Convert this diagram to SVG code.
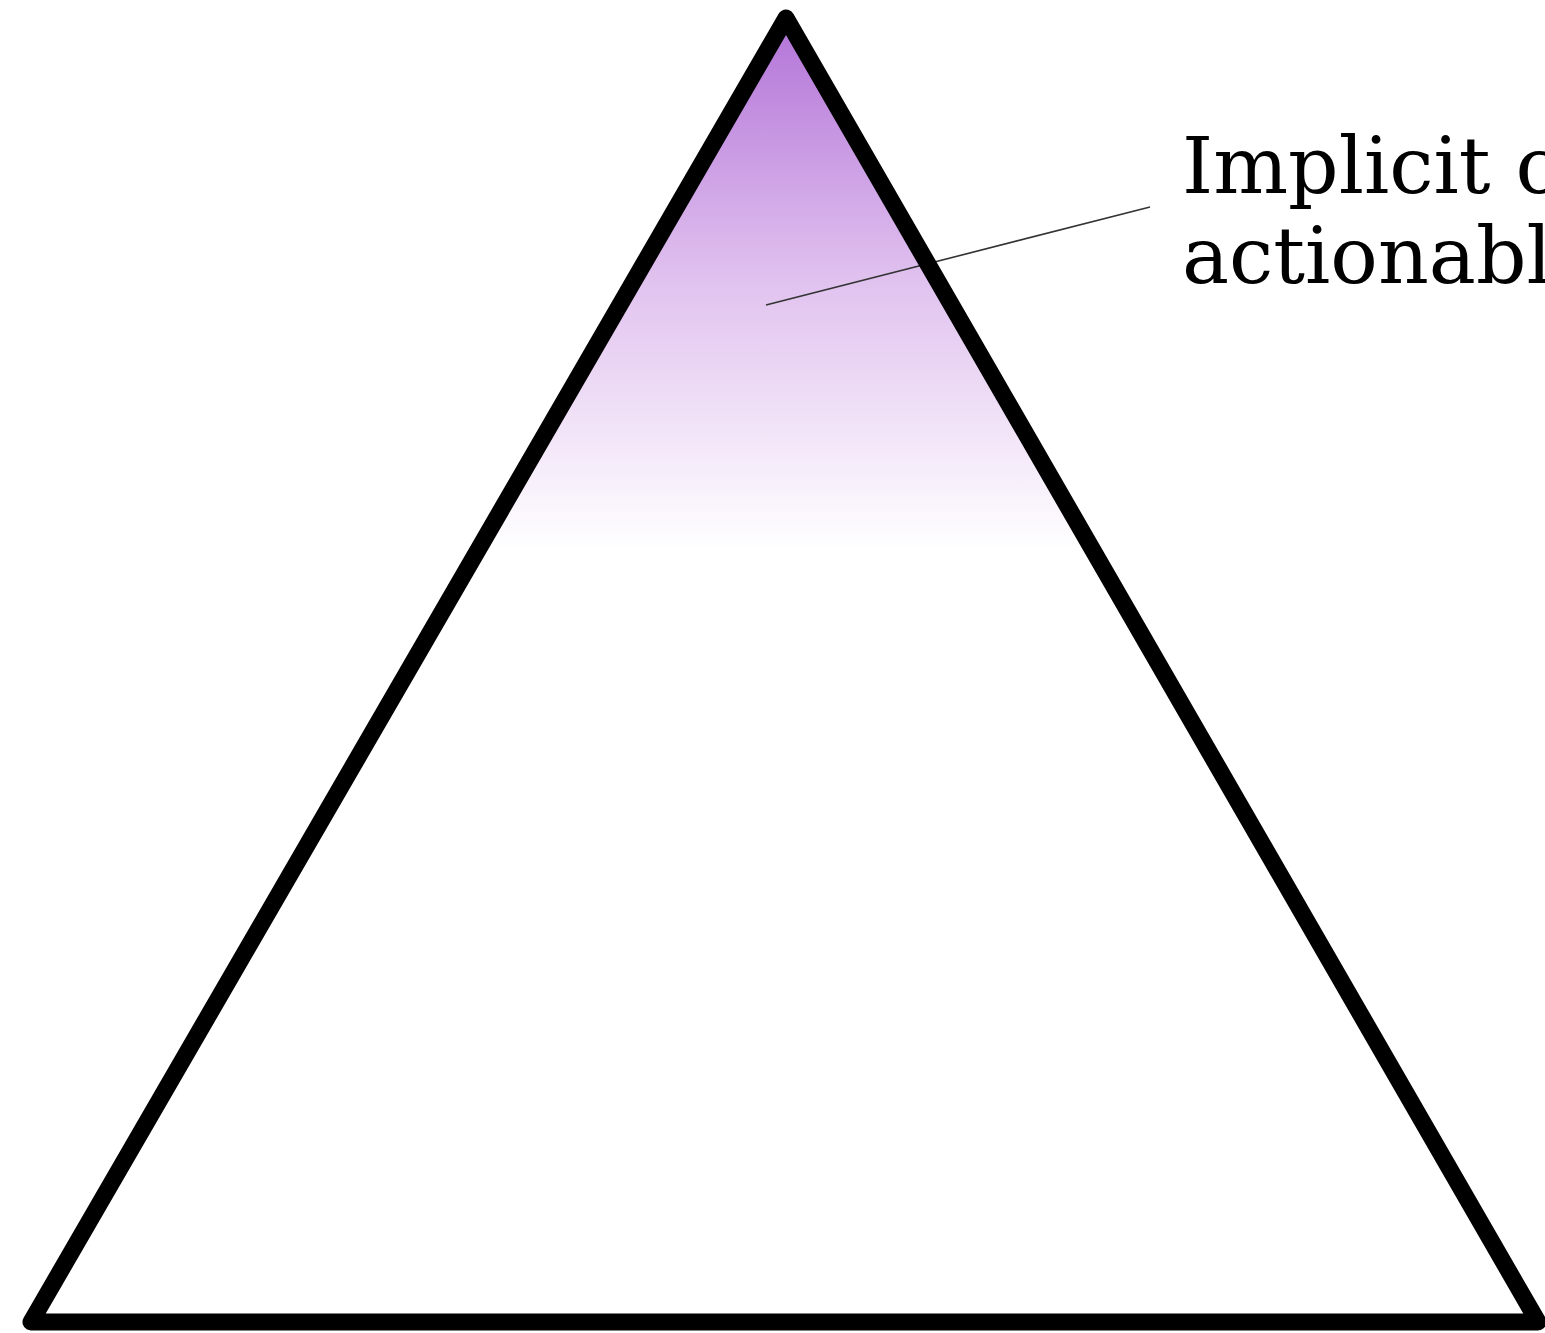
<svg xmlns="http://www.w3.org/2000/svg" width="1545" height="1333" viewBox="0 0 1545 1333">
<style>
.lbl{font-family:"DejaVu Serif",serif;font-size:79px;fill:#000}
.lead{stroke:#333;stroke-width:1.6;fill:none}
</style>
<defs>
<linearGradient id="g" gradientUnits="userSpaceOnUse" x1="0" y1="20" x2="0" y2="550">
<stop offset="0" stop-color="#b374d8"/>
<stop offset="0.5" stop-color="#e1c3ef"/>
<stop offset="1" stop-color="#ffffff"/>
</linearGradient>
</defs>
<rect width="1545" height="1333" fill="#fff"/>
<g id="pyramid">
<polygon points="786,18 31,1322 1538,1322" fill="url(#g)" stroke="none"/>
</g>
<g id="connectors">
<line class="lead" x1="766" y1="305" x2="1150" y2="207"/>
</g>
<g id="pyramid-outline">
<polygon points="786,18 31,1322 1538,1322" fill="none" stroke="#000" stroke-width="17" stroke-linejoin="round"/>
</g>
<g id="label">
<text class="lbl" x="1182" y="193">Implicit c</text>
<text class="lbl" x="1182" y="283">actionabl</text>
</g>
</svg>
